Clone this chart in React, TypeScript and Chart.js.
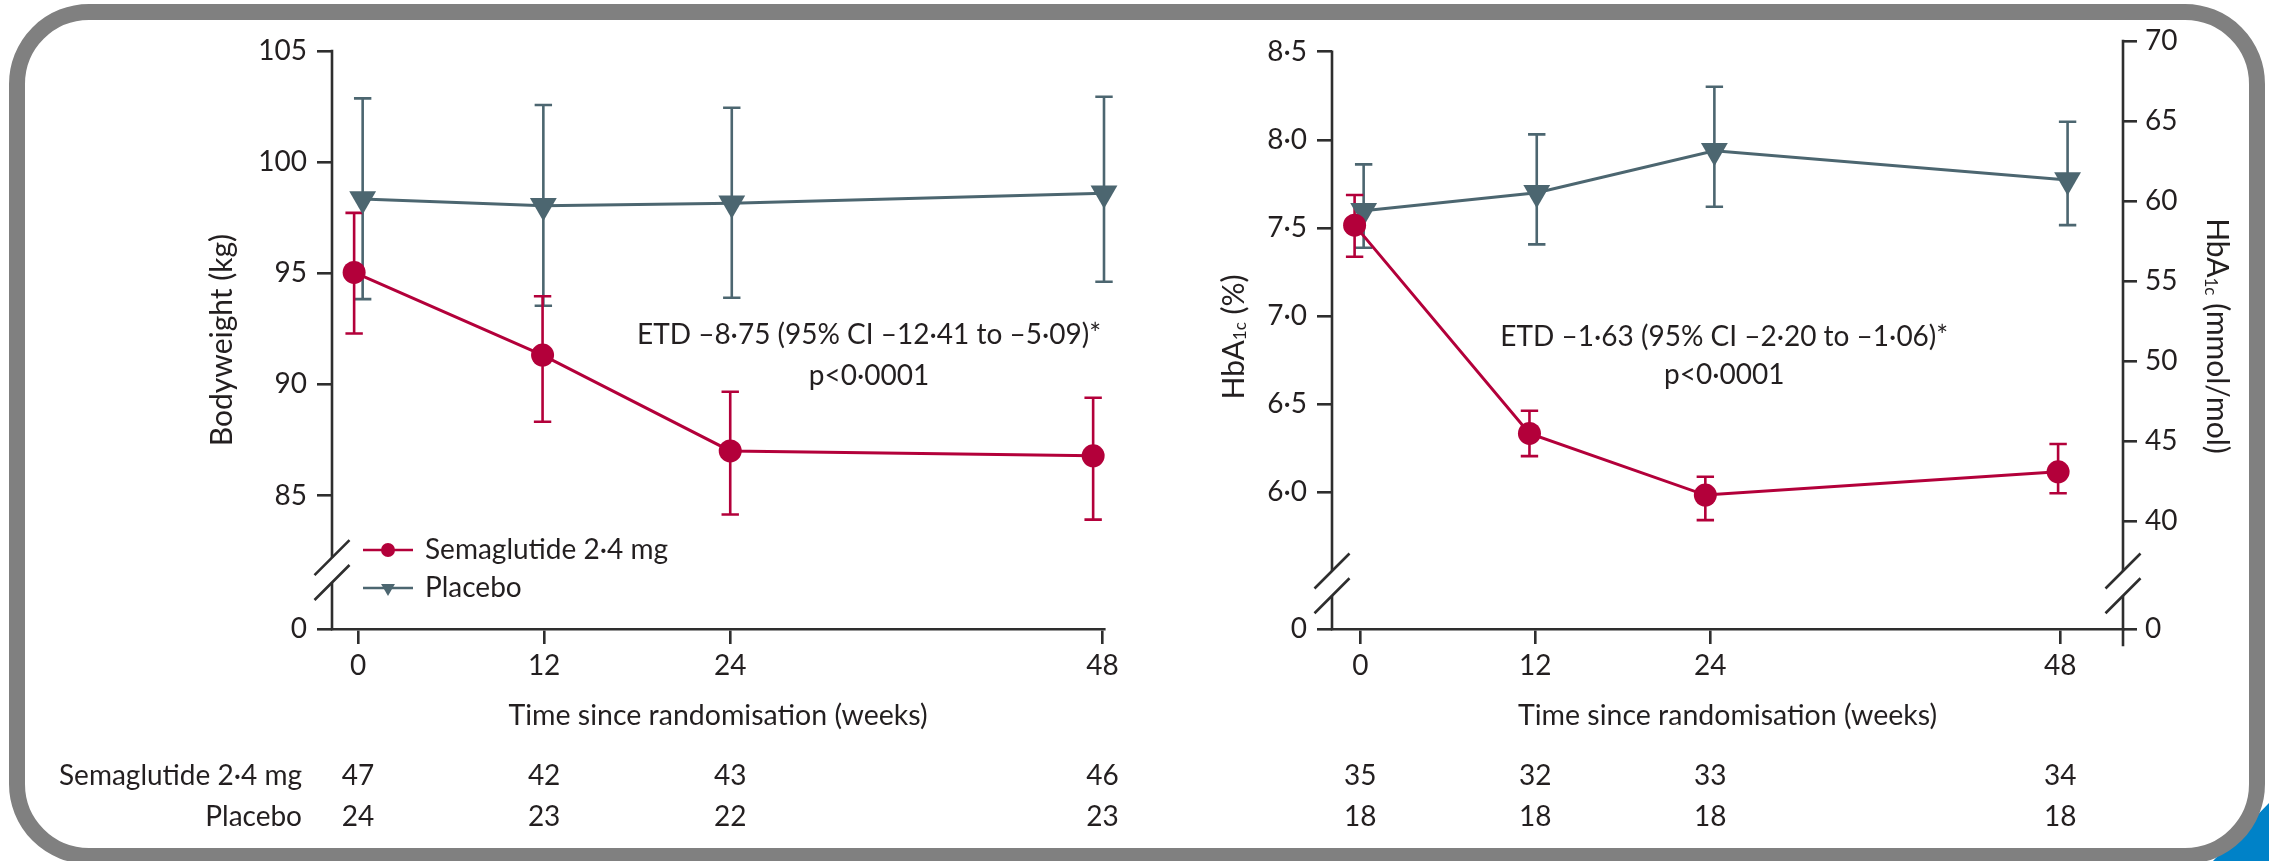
import React, { useEffect, useRef } from 'react';
import { Chart, registerables } from 'chart.js';
import { drawPoint } from 'chart.js/helpers';

Chart.register(...registerables);

// ---------------- data ----------------
const WEEKS = [0, 12, 24, 48];
const X_TICK_LABELS = ['0', '12', '24', '48'];

// Bodyweight (kg) panel
const BW_SEMA_X = [-0.25, 11.9, 24.0, 47.4];
const BW_SEMA = [95.04, 91.32, 87.01, 86.79];
const BW_SEMA_LO = [92.29, 88.32, 84.15, 83.92];
const BW_SEMA_HI = [97.72, 93.97, 89.67, 89.4];
const BW_PLAC_X = [0.3, 11.95, 24.1, 48.1];
const BW_PLAC = [98.34, 98.04, 98.15, 98.6];
const BW_PLAC_LO = [93.84, 93.54, 93.9, 94.62];
const BW_PLAC_HI = [102.87, 102.57, 102.45, 102.94];
const BW_Y_TICKS = [85, 90, 95, 100, 105];
const BW_Y_LABELS = ['0', '85', '90', '95', '100', '105'];

// HbA1c panel
const HB_SEMA_X = [-0.39, 11.6, 23.66, 47.85];
const HB_SEMA = [7.516, 6.334, 5.984, 6.116];
const HB_SEMA_LO = [7.337, 6.205, 5.842, 5.994];
const HB_SEMA_HI = [7.687, 6.463, 6.088, 6.274];
const HB_PLAC_X = [0.23, 12.1, 24.28, 48.5];
const HB_PLAC = [7.598, 7.7, 7.938, 7.772];
const HB_PLAC_LO = [7.388, 7.407, 7.62, 7.516];
const HB_PLAC_HI = [7.861, 8.031, 8.301, 8.103];
const HB_Y_TICKS = [6.0, 6.5, 7.0, 7.5, 8.0, 8.5];
const HB_Y_LABELS = ['0', '6·0', '6·5', '7·0', '7·5', '8·0', '8·5'];
const MMOL_TICKS = [40, 45, 50, 55, 60, 65, 70];
const MMOL_LABELS = ['0', '40', '45', '50', '55', '60', '65', '70'];

// numbers at risk
const GROUP_LABELS = ['Semaglutide 2·4 mg', 'Placebo'];
const N_SEMA_BW = [47, 42, 43, 46];
const N_PLAC_BW = [24, 23, 22, 23];
const N_SEMA_HB = [35, 32, 33, 34];
const N_PLAC_HB = [18, 18, 18, 18];

const ANNOT_BW = ['ETD –8·75 (95% CI –12·41 to –5·09)*', 'p<0·0001'];
const ANNOT_HB = ['ETD –1·63 (95% CI –2·20 to –1·06)*', 'p<0·0001'];

// -------------- scale layout constants --------------
const BW_ZERO = 79.0; // axis value where the broken "0" sits
const BW_BREAK = 81.65;
const HB_ZERO = 5.224;
const HB_MAX = 8.561;
const HB_BREAK = 5.483;
const MMOL_ZERO = 33.25;

// -------------- styles --------------
const RED = '#B3003A';
const SLATE = '#4C6670';
const AXIS = '#2E2E2E';
const TEXT = '#231F20';
const FONT = 'Lato, "Open Sans", sans-serif';
const CAP = 8.7;

Chart.defaults.font.family = FONT;
Chart.defaults.color = TEXT;

type ErrSet = { x: number[]; lo: number[]; hi: number[]; color: string };

function drawErrorBars(chart: any, yId: string, sets: ErrSet[]) {
  const ctx = chart.ctx;
  const xs = chart.scales.x;
  const ys = chart.scales[yId];
  ctx.save();
  sets.forEach((s) => {
    ctx.strokeStyle = s.color;
    ctx.lineWidth = 2.6;
    s.x.forEach((xv, i) => {
      const px = xs.getPixelForValue(xv);
      const pLo = ys.getPixelForValue(s.lo[i]);
      const pHi = ys.getPixelForValue(s.hi[i]);
      ctx.beginPath();
      ctx.moveTo(px, pLo);
      ctx.lineTo(px, pHi);
      ctx.moveTo(px - CAP, pLo);
      ctx.lineTo(px + CAP, pLo);
      ctx.moveTo(px - CAP, pHi);
      ctx.lineTo(px + CAP, pHi);
      ctx.stroke();
    });
  });
  ctx.restore();
}

function drawAxisWithBreak(ctx: CanvasRenderingContext2D, x: number, yTop: number, yBottom: number, yBreak: number) {
  const sep = 12.4;
  const d = 17.5;
  ctx.save();
  ctx.strokeStyle = AXIS;
  ctx.lineWidth = 2.6;
  ctx.beginPath();
  ctx.moveTo(x, yTop - 1.3);
  ctx.lineTo(x, yBreak - sep);
  ctx.moveTo(x, yBreak + sep);
  ctx.lineTo(x, yBottom + 1.3);
  ctx.stroke();
  ctx.beginPath();
  [yBreak - sep, yBreak + sep].forEach((yc) => {
    ctx.moveTo(x - d, yc + d);
    ctx.lineTo(x + d, yc - d);
  });
  ctx.stroke();
  ctx.restore();
}

function drawCenteredLines(ctx: CanvasRenderingContext2D, lines: string[], x: number, ys: number[]) {
  ctx.save();
  ctx.fillStyle = TEXT;
  ctx.font = `28px ${FONT}`;
  ctx.textAlign = 'center';
  ctx.textBaseline = 'middle';
  lines.forEach((l, i) => ctx.fillText(l, x, ys[i]));
  ctx.restore();
}

function drawRiskTable(chart: any, rows: number[][], withLabels: boolean) {
  const ctx = chart.ctx;
  const xs = chart.scales.x;
  const rowY = [776, 817];
  ctx.save();
  ctx.fillStyle = TEXT;
  ctx.font = `28px ${FONT}`;
  ctx.textBaseline = 'middle';
  rows.forEach((row, r) => {
    ctx.textAlign = 'center';
    row.forEach((n, i) => ctx.fillText(String(n), xs.getPixelForValue(WEEKS[i]), rowY[r]));
    if (withLabels) {
      ctx.textAlign = 'right';
      ctx.fillText(GROUP_LABELS[r], 302, rowY[r]);
    }
  });
  ctx.restore();
}

function drawLegend(chart: any) {
  const ctx = chart.ctx;
  ctx.save();
  chart.data.datasets.forEach((ds: any, i: number) => {
    const y = 550 + i * 38;
    ctx.strokeStyle = ds.borderColor;
    ctx.fillStyle = ds.borderColor;
    ctx.lineWidth = 2.6;
    ctx.beginPath();
    ctx.moveTo(363, y);
    ctx.lineTo(413, y);
    ctx.stroke();
    drawPoint(ctx, { pointStyle: ds.pointStyle, rotation: ds.pointRotation || 0, radius: ds.pointStyle === 'circle' ? 7 : 8, borderWidth: 0 } as any, 388, y);
    ctx.fillStyle = TEXT;
    ctx.font = `28px ${FONT}`;
    ctx.textAlign = 'left';
    ctx.textBaseline = 'middle';
    ctx.fillText(ds.label, 425, y);
  });
  ctx.restore();
}

function drawRichTitle(ctx: CanvasRenderingContext2D, cx: number, cy: number, rot: number, tail: string) {
  ctx.save();
  ctx.translate(cx, cy);
  ctx.rotate(rot);
  ctx.fillStyle = TEXT;
  ctx.textBaseline = 'middle';
  ctx.textAlign = 'left';
  const parts = [
    { t: 'HbA', f: `30px ${FONT}`, dy: 0 },
    { t: '1c', f: `17px ${FONT}`, dy: 7 },
    { t: tail, f: `30px ${FONT}`, dy: 0 },
  ];
  let total = 0;
  parts.forEach((p) => {
    ctx.font = p.f;
    total += ctx.measureText(p.t).width;
  });
  let cur = -total / 2;
  parts.forEach((p) => {
    ctx.font = p.f;
    ctx.fillText(p.t, cur, p.dy);
    cur += ctx.measureText(p.t).width;
  });
  ctx.restore();
}

const leftPlugin = {
  id: 'bwDecor',
  beforeDatasetsDraw(chart: any) {
    drawErrorBars(chart, 'y', [
      { x: BW_PLAC_X, lo: BW_PLAC_LO, hi: BW_PLAC_HI, color: SLATE },
      { x: BW_SEMA_X, lo: BW_SEMA_LO, hi: BW_SEMA_HI, color: RED },
    ]);
  },
  afterDraw(chart: any) {
    const { ctx, chartArea, scales } = chart;
    const ys = scales.y;
    const xs = scales.x;
    drawAxisWithBreak(ctx, chartArea.left, ys.getPixelForValue(BW_Y_TICKS[BW_Y_TICKS.length - 1]), chartArea.bottom, ys.getPixelForValue(BW_BREAK));
    drawCenteredLines(ctx, ANNOT_BW, xs.getPixelForValue(32.95), [ys.getPixelForValue(92.22), ys.getPixelForValue(90.37)]);
    drawLegend(chart);
    drawRiskTable(chart, [N_SEMA_BW, N_PLAC_BW], true);
  },
};

const rightPlugin = {
  id: 'hbDecor',
  beforeDatasetsDraw(chart: any) {
    drawErrorBars(chart, 'y', [
      { x: HB_PLAC_X, lo: HB_PLAC_LO, hi: HB_PLAC_HI, color: SLATE },
      { x: HB_SEMA_X, lo: HB_SEMA_LO, hi: HB_SEMA_HI, color: RED },
    ]);
  },
  afterDraw(chart: any) {
    const { ctx, chartArea, scales } = chart;
    const ys = scales.y;
    const y2 = scales.y2;
    const xs = scales.x;
    const yBreak = ys.getPixelForValue(HB_BREAK);
    drawAxisWithBreak(ctx, chartArea.left, ys.getPixelForValue(HB_Y_TICKS[HB_Y_TICKS.length - 1]), chartArea.bottom, yBreak);
    drawAxisWithBreak(ctx, chartArea.right, y2.getPixelForValue(MMOL_TICKS[MMOL_TICKS.length - 1]), chartArea.bottom + 16, yBreak);
    drawCenteredLines(ctx, ANNOT_HB, xs.getPixelForValue(24.96), [ys.getPixelForValue(6.881), ys.getPixelForValue(6.665)]);
    drawRichTitle(ctx, 99, 337, -Math.PI / 2, ' (%)');
    drawRichTitle(ctx, 1082, 336, Math.PI / 2, ' (mmol/mol)');
    drawRiskTable(chart, [N_SEMA_HB, N_PLAC_HB], false);
  },
};

function points(xs: number[], ys: number[]) {
  return xs.map((x, i) => ({ x, y: ys[i] }));
}

function datasetsFor(semaX: number[], sema: number[], placX: number[], plac: number[]) {
  return [
    {
      label: GROUP_LABELS[0],
      data: points(semaX, sema),
      borderColor: RED,
      backgroundColor: RED,
      pointBackgroundColor: RED,
      pointBorderColor: RED,
      pointBorderWidth: 0,
      pointStyle: 'circle',
      pointRadius: 11.5,
      borderWidth: 3,
      tension: 0,
      clip: false,
      yAxisID: 'y',
    },
    {
      label: GROUP_LABELS[1],
      data: points(placX, plac),
      borderColor: SLATE,
      backgroundColor: SLATE,
      pointBackgroundColor: SLATE,
      pointBorderColor: SLATE,
      pointBorderWidth: 0,
      pointStyle: 'triangle',
      pointRotation: 180,
      pointRadius: 15.5,
      borderWidth: 3,
      tension: 0,
      clip: false,
      yAxisID: 'y',
    },
  ];
}

const tickGrid = (len: number) => ({
  drawOnChartArea: false,
  drawTicks: true,
  tickLength: len,
  color: AXIS,
  lineWidth: 2.6,
});

function xScale(min: number, max: number) {
  return {
    type: 'linear',
    min,
    max,
    afterBuildTicks: (s: any) => {
      s.ticks = WEEKS.map((v) => ({ value: v }));
    },
    afterFit: (s: any) => {
      s.height = 232;
    },
    ticks: {
      autoSkip: false,
      maxRotation: 0,
      padding: 5,
      font: { size: 28 },
      color: TEXT,
      callback: (_v: any, i: number) => X_TICK_LABELS[i],
    },
    grid: tickGrid(15),
    border: { display: true, color: AXIS, width: 2.6 },
    title: {
      display: true,
      text: 'Time since randomisation (weeks)',
      font: { size: 28.5 },
      color: TEXT,
      padding: { top: 0, bottom: 128 },
    },
  };
}

function leftConfig(): any {
  return {
    type: 'line',
    data: { datasets: datasetsFor(BW_SEMA_X, BW_SEMA, BW_PLAC_X, BW_PLAC) },
    options: {
      responsive: false,
      animation: false,
      devicePixelRatio: 1,
      events: [],
      layout: { padding: { top: 51, right: 31, bottom: 0, left: 0 } },
      plugins: { legend: { display: false }, tooltip: { enabled: false } },
      scales: {
        x: xScale(-1.677, 48.1),
        y: {
          type: 'linear',
          position: 'left',
          min: BW_ZERO,
          max: 105,
          afterBuildTicks: (s: any) => {
            s.ticks = [BW_ZERO, ...BW_Y_TICKS].map((v) => ({ value: v }));
          },
          afterFit: (s: any) => {
            s.width = 332;
          },
          ticks: { autoSkip: false, padding: 10, font: { size: 28 }, color: TEXT, callback: (_v: any, i: number) => BW_Y_LABELS[i] },
          grid: tickGrid(15),
          border: { display: false },
          title: {
            display: true,
            text: 'Bodyweight (kg)',
            font: { size: 30 },
            color: TEXT,
            padding: { top: 204, bottom: 0 },
          },
        },
      },
    },
    plugins: [leftPlugin],
  };
}

function rightConfig(): any {
  return {
    type: 'line',
    data: { datasets: datasetsFor(HB_SEMA_X, HB_SEMA, HB_PLAC_X, HB_PLAC) },
    options: {
      responsive: false,
      animation: false,
      devicePixelRatio: 1,
      events: [],
      layout: { padding: { top: 41, right: 0, bottom: 0, left: 0 } },
      plugins: { legend: { display: false }, tooltip: { enabled: false } },
      scales: {
        x: xScale(-1.94, 52.3),
        y: {
          type: 'linear',
          position: 'left',
          min: HB_ZERO,
          max: HB_MAX,
          afterBuildTicks: (s: any) => {
            s.ticks = [HB_ZERO, ...HB_Y_TICKS].map((v) => ({ value: v }));
          },
          afterFit: (s: any) => {
            s.width = 197;
          },
          ticks: { autoSkip: false, padding: 10, font: { size: 28 }, color: TEXT, callback: (_v: any, i: number) => HB_Y_LABELS[i] },
          grid: tickGrid(15),
          border: { display: false },
        },
        y2: {
          type: 'linear',
          position: 'right',
          min: MMOL_ZERO,
          max: 70,
          afterBuildTicks: (s: any) => {
            s.ticks = [MMOL_ZERO, ...MMOL_TICKS].map((v) => ({ value: v }));
          },
          afterFit: (s: any) => {
            s.width = 146;
          },
          ticks: { autoSkip: false, padding: 8, font: { size: 28 }, color: TEXT, callback: (_v: any, i: number) => MMOL_LABELS[i] },
          grid: tickGrid(14),
          border: { display: false },
        },
      },
    },
    plugins: [rightPlugin],
  };
}

function ChartCanvas({ left, width, make }: { left: number; width: number; make: () => any }) {
  const ref = useRef<HTMLCanvasElement>(null);
  useEffect(() => {
    const chart = new Chart(ref.current as HTMLCanvasElement, make());
    return () => chart.destroy();
  }, []);
  return (
    <canvas
      ref={ref}
      width={width}
      height={861}
      style={{ position: 'absolute', left, top: 0, width, height: 861 }}
    />
  );
}

export default function App() {
  return (
    <div
      style={{
        position: 'fixed',
        left: 0,
        top: 0,
        width: 2269,
        height: 861,
        overflow: 'hidden',
        background: '#ffffff',
      }}
    >
      <div
        style={{
          position: 'absolute',
          left: 2200,
          top: 790,
          width: 69,
          height: 71,
          background: '#0082C8',
          clipPath: 'polygon(13px 71px, 69px 13px, 69px 71px)',
        }}
      />
      <div
        style={{
          position: 'absolute',
          left: 9,
          top: 4,
          width: 2256,
          height: 860,
          boxSizing: 'border-box',
          border: '16px solid #808080',
          borderRadius: 80,
        }}
      />
      <ChartCanvas left={0} width={1135} make={leftConfig} />
      <ChartCanvas left={1135} width={1134} make={rightConfig} />
    </div>
  );
}
